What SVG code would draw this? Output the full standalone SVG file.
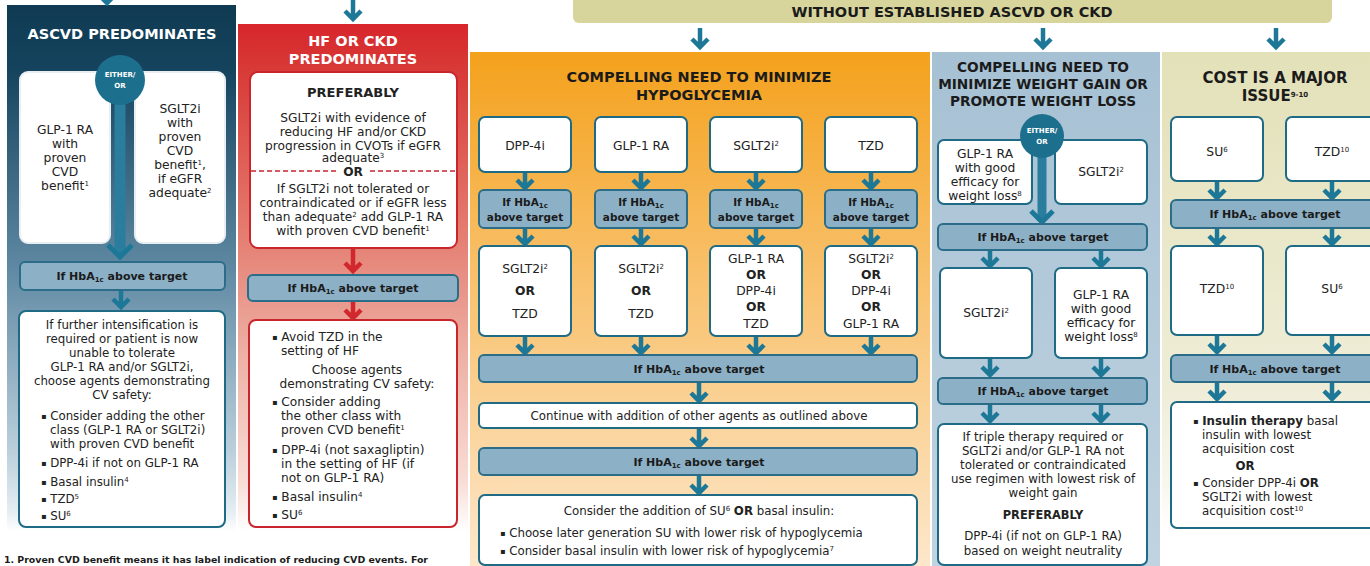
<svg xmlns="http://www.w3.org/2000/svg" width="1370" height="566" viewBox="0 0 1370 566">
<defs>
<linearGradient id="gNavy" x1="0" y1="0" x2="0" y2="1">
<stop offset="0" stop-color="#0f3a52"/><stop offset="0.12" stop-color="#15435d"/><stop offset="0.5" stop-color="#5f89a3"/><stop offset="0.85" stop-color="#bcd0dc"/><stop offset="0.96" stop-color="#e4edf2"/><stop offset="1" stop-color="#ffffff"/>
</linearGradient>
<linearGradient id="gRed" x1="0" y1="0" x2="0" y2="1">
<stop offset="0" stop-color="#d7262c"/><stop offset="0.09" stop-color="#d83a37"/><stop offset="0.4" stop-color="#e47a6e"/><stop offset="0.65" stop-color="#eeb0a4"/><stop offset="0.9" stop-color="#f8ddd6"/><stop offset="1" stop-color="#ffffff"/>
</linearGradient>
<linearGradient id="gOrange" x1="0" y1="0" x2="0" y2="1">
<stop offset="0" stop-color="#f4a11c"/><stop offset="0.4" stop-color="#f8be65"/><stop offset="1" stop-color="#fde7cb"/>
</linearGradient>
<linearGradient id="gBlue" x1="0" y1="0" x2="0" y2="1">
<stop offset="0" stop-color="#a6c1d4"/><stop offset="1" stop-color="#c0d3e0"/>
</linearGradient>
<linearGradient id="gKhaki" x1="0" y1="0" x2="0" y2="1">
<stop offset="0" stop-color="#e3e1b8"/><stop offset="0.7" stop-color="#efedd7"/><stop offset="0.9" stop-color="#f8f7ee"/><stop offset="1" stop-color="#ffffff"/>
</linearGradient>
<style>
.t{font-family:"DejaVu Sans","Liberation Sans",sans-serif;font-size:11.8px;fill:#222}
.r{font-size:12.2px}
.m{font-size:12.3px}
.c{text-anchor:middle}
.b{font-weight:700}
.bl{font-size:8px;baseline-shift:1.5px}
.hw{font-size:14.5px;font-weight:700;fill:#fff}
.hd{font-size:14.5px;font-weight:700;fill:#1b1b1b}
.hb{font-size:11px;font-weight:700;fill:#1b1b1b}
.hs{font-size:10.5px;font-weight:700;fill:#1b1b1b}
.sup{font-size:7px;baseline-shift:4px}
.sub{font-size:7px;baseline-shift:-2px}
.wb{fill:#fff;stroke:#1f6a85;stroke-width:2}
.rb{fill:#fff;stroke:#c8262c;stroke-width:2}
.bar{fill:#8cb1c7;stroke:#2b6d89;stroke-width:2}
.arr{fill:none;stroke:#1d7897;stroke-width:4.5}
.arrR{fill:none;stroke:#d0282d;stroke-width:4.5}
.circ{fill:#1d6f8e}
.ct{font-family:"DejaVu Sans","Liberation Sans",sans-serif;font-size:7px;font-weight:700;fill:#fff;text-anchor:middle}
</style>
</defs>
<rect width="1370" height="566" fill="#ffffff"/>

<g id="panel-ascvd">
<rect x="7" y="5" width="229" height="527" fill="url(#gNavy)"/>
<text class="t hw c" x="122" y="39">ASCVD PREDOMINATES</text>
</g>
<g id="panel-hf">
<rect x="238" y="24" width="230" height="508" fill="url(#gRed)"/>
<text class="t hw c" x="353" y="46">HF OR CKD</text>
<text class="t hw c" x="353" y="64">PREDOMINATES</text>
</g>
<g id="top-bar">
<rect x="573" y="-8" width="759" height="31" rx="6" fill="#d7d59c"/>
<text class="t hd c" x="952" y="17">WITHOUT ESTABLISHED ASCVD OR CKD</text>
</g>
<g id="panel-hypo">
<rect x="470" y="52" width="460" height="514" fill="url(#gOrange)"/>
<text class="t hd c" x="699" y="82">COMPELLING NEED TO MINIMIZE</text>
<text class="t hd c" x="699" y="100">HYPOGLYCEMIA</text>
</g>
<g id="panel-weight">
<rect x="932" y="52" width="228" height="514" fill="url(#gBlue)"/>
<text class="t hd c" x="1043" y="72" style="font-size:13.7px">COMPELLING NEED TO</text>
<text class="t hd c" x="1043" y="89" style="font-size:13.7px">MINIMIZE WEIGHT GAIN OR</text>
<text class="t hd c" x="1043" y="106" style="font-size:13.7px">PROMOTE WEIGHT LOSS</text>
</g>
<g id="panel-cost">
<rect x="1162" y="52" width="208" height="480" fill="url(#gKhaki)"/>
<text class="t hd c" x="1275" y="83" style="font-size:15px">COST IS A MAJOR</text>
<text class="t hd c" x="1275" y="101" style="font-size:15px">ISSUE<tspan class="sup">9-10</tspan></text>
</g>

<g id="connectors">
<path class="arr" d="M107 -6V3M99 -5L107 3L115 -5"/>
<path class="arr" d="M353 0V19M345 11L353 19L361 11"/>
<path class="arr" d="M700 28V47M692 39L700 47L708 39"/>
<path class="arr" d="M1043 28V47M1035 39L1043 47L1051 39"/>
<path class="arr" d="M1276 28V47M1268 39L1276 47L1284 39"/>
<path d="M120 100V255" fill="none" stroke="#2a7d9c" stroke-width="11"/>
<path class="arr" d="M108 245L120 257L132 245" style="stroke-width:5"/>
<path class="arr" d="M121 291V307M113 299L121 307L129 299"/>
<path class="arrR" d="M353 249V271M345 263L353 271L361 263"/>
<path class="arrR" d="M353 301V318M345 310L353 318L361 310"/>
<path class="arr" d="M525 173V188M517 180L525 188L533 180"/>
<path class="arr" d="M641 173V188M633 180L641 188L649 180"/>
<path class="arr" d="M756 173V188M748 180L756 188L764 180"/>
<path class="arr" d="M871 173V188M863 180L871 188L879 180"/>
<path class="arr" d="M525 229V244M517 236L525 244L533 236"/>
<path class="arr" d="M641 229V244M633 236L641 244L649 236"/>
<path class="arr" d="M756 229V244M748 236L756 244L764 236"/>
<path class="arr" d="M871 229V244M863 236L871 244L879 236"/>
<path class="arr" d="M525 337V353M517 345L525 353L533 345"/>
<path class="arr" d="M641 337V353M633 345L641 353L649 345"/>
<path class="arr" d="M756 337V353M748 345L756 353L764 345"/>
<path class="arr" d="M871 337V353M863 345L871 353L879 345"/>
<path class="arr" d="M699 383V401M691 393L699 401L707 393"/>
<path class="arr" d="M699 429V446M691 438L699 446L707 438"/>
<path class="arr" d="M699 476V493M691 485L699 493L707 485"/>
<path d="M1042 156V220" fill="none" stroke="#2a7d9c" stroke-width="9"/>
<path class="arr" d="M1031 211L1042 222L1053 211" style="stroke-width:5"/>
<path class="arr" d="M990 251V266M982 258L990 266L998 258"/>
<path class="arr" d="M1101 251V266M1093 258L1101 266L1109 258"/>
<path class="arr" d="M990 359V375M982 367L990 375L998 367"/>
<path class="arr" d="M1101 359V375M1093 367L1101 375L1109 367"/>
<path class="arr" d="M990 405V421M982 413L990 421L998 413"/>
<path class="arr" d="M1101 405V421M1093 413L1101 421L1109 413"/>
<path d="M1042 565V572" fill="none" stroke="#1d7897" stroke-width="3"/>
<path class="arr" d="M1217 182V198M1209 190L1217 198L1225 190"/>
<path class="arr" d="M1332 182V198M1324 190L1332 198L1340 190"/>
<path class="arr" d="M1217 229V244M1209 236L1217 244L1225 236"/>
<path class="arr" d="M1332 229V244M1324 236L1332 244L1340 236"/>
<path class="arr" d="M1217 336V352M1209 344L1217 352L1225 344"/>
<path class="arr" d="M1332 336V352M1324 344L1332 352L1340 344"/>
<path class="arr" d="M1217 382V399M1209 391L1217 399L1225 391"/>
<path class="arr" d="M1332 382V399M1324 391L1332 399L1340 391"/>
</g>

<g id="a-glp1">
<rect class="wb" x="20" y="72" width="90" height="171" rx="8" style="stroke:#e8eef2"/>
<text class="t m c" x="65" y="134">GLP-1 RA</text>
<text class="t m c" x="65" y="148">with</text>
<text class="t m c" x="65" y="162">proven</text>
<text class="t m c" x="65" y="176">CVD</text>
<text class="t m c" x="65" y="190">benefit<tspan class="sup">1</tspan></text>
</g>
<g id="a-sglt2">
<rect class="wb" x="135" y="72" width="90" height="171" rx="8" style="stroke:#e8eef2"/>
<text class="t m c" x="180" y="113">SGLT2i</text>
<text class="t m c" x="180" y="127">with</text>
<text class="t m c" x="180" y="141">proven</text>
<text class="t m c" x="180" y="155">CVD</text>
<text class="t m c" x="180" y="169">benefit<tspan class="sup">1</tspan>,</text>
<text class="t m c" x="180" y="183">if eGFR</text>
<text class="t m c" x="180" y="197">adequate<tspan class="sup">2</tspan></text>
</g>
<g id="a-either">
<circle class="circ" cx="120" cy="80" r="25"/>
<text class="ct" x="120" y="77">EITHER/</text>
<text class="ct" x="120" y="88">OR</text>
</g>
<g id="a-hba1c">
<rect class="bar" x="20" y="262" width="205" height="28" rx="5"/>
<text class="t hb c" x="122" y="280">If HbA<tspan class="sub">1c</tspan> above target</text>
</g>
<g id="a-further">
<rect class="wb" x="19" y="311" width="206" height="216" rx="7"/>
<text class="t c" x="122" y="329">If further intensification is</text>
<text class="t c" x="122" y="343">required or patient is now</text>
<text class="t c" x="122" y="357">unable to tolerate</text>
<text class="t c" x="122" y="371">GLP-1 RA and/or SGLT2i,</text>
<text class="t c" x="122" y="385">choose agents demonstrating</text>
<text class="t c" x="122" y="399">CV safety:</text>
<text class="t" x="41" y="420"><tspan class="bl">▪</tspan> Consider adding the other</text>
<text class="t" x="50" y="434">class (GLP-1 RA or SGLT2i)</text>
<text class="t" x="50" y="448">with proven CVD benefit</text>
<text class="t" x="41" y="467"><tspan class="bl">▪</tspan> DPP-4i if not on GLP-1 RA</text>
<text class="t" x="41" y="486"><tspan class="bl">▪</tspan> Basal insulin<tspan class="sup">4</tspan></text>
<text class="t" x="41" y="503"><tspan class="bl">▪</tspan> TZD<tspan class="sup">5</tspan></text>
<text class="t" x="41" y="520"><tspan class="bl">▪</tspan> SU<tspan class="sup">6</tspan></text>
</g>

<g id="h-pref">
<rect class="rb" x="250" y="72" width="207" height="176" rx="8"/>
<text class="t b c" x="353" y="97" style="font-size:13px">PREFERABLY</text>
<text class="t r c" x="353" y="122">SGLT2i with evidence of</text>
<text class="t r c" x="353" y="136">reducing HF and/or CKD</text>
<text class="t r c" x="353" y="150">progression in CVOTs if eGFR</text>
<text class="t r c" x="353" y="162">adequate<tspan class="sup">3</tspan></text>
<line x1="251" y1="171" x2="336" y2="171" stroke="#c8262c" stroke-width="1.5" stroke-dasharray="5 3"/>
<line x1="370" y1="171" x2="456" y2="171" stroke="#c8262c" stroke-width="1.5" stroke-dasharray="5 3"/>
<text class="t r b c" x="353" y="176">OR</text>
<text class="t r c" x="353" y="193">If SGLT2i not tolerated or</text>
<text class="t r c" x="353" y="207">contraindicated or if eGFR less</text>
<text class="t r c" x="353" y="221">than adequate<tspan class="sup">2</tspan> add GLP-1 RA</text>
<text class="t r c" x="353" y="235">with proven CVD benefit<tspan class="sup">1</tspan></text>
</g>
<g id="h-hba1c">
<rect class="bar" x="248" y="275" width="210" height="26" rx="5"/>
<text class="t hb c" x="353" y="292">If HbA<tspan class="sub">1c</tspan> above target</text>
</g>
<g id="h-agents">
<rect class="rb" x="249" y="320" width="208" height="207" rx="7"/>
<text class="t r" x="272" y="341"><tspan class="bl">▪</tspan> Avoid TZD in the</text>
<text class="t r" x="281" y="355">setting of HF</text>
<text class="t r c" x="357" y="374">Choose agents</text>
<text class="t r c" x="357" y="388">demonstrating CV safety:</text>
<text class="t r" x="272" y="406"><tspan class="bl">▪</tspan> Consider adding</text>
<text class="t r" x="281" y="420">the other class with</text>
<text class="t r" x="281" y="434">proven CVD benefit<tspan class="sup">1</tspan></text>
<text class="t r" x="272" y="454"><tspan class="bl">▪</tspan> DPP-4i (not saxagliptin)</text>
<text class="t r" x="281" y="468">in the setting of HF (if</text>
<text class="t r" x="281" y="482">not on GLP-1 RA)</text>
<text class="t r" x="272" y="501"><tspan class="bl">▪</tspan> Basal insulin<tspan class="sup">4</tspan></text>
<text class="t r" x="272" y="519"><tspan class="bl">▪</tspan> SU<tspan class="sup">6</tspan></text>
</g>

<g id="y-dpp4"><rect class="wb" x="479" y="117" width="92" height="55" rx="6"/><text class="t m c" x="525" y="150">DPP-4i</text></g>
<g id="y-glp1"><rect class="wb" x="595" y="117" width="92" height="55" rx="6"/><text class="t m c" x="641" y="150">GLP-1 RA</text></g>
<g id="y-sglt2"><rect class="wb" x="710" y="117" width="92" height="55" rx="6"/><text class="t m c" x="756" y="150">SGLT2i<tspan class="sup">2</tspan></text></g>
<g id="y-tzd"><rect class="wb" x="825" y="117" width="92" height="55" rx="6"/><text class="t m c" x="871" y="150">TZD</text></g>

<g id="y-hb1"><rect class="bar" x="479" y="190" width="92" height="38" rx="5"/><text class="t hs c" x="525" y="206">If HbA<tspan class="sub">1c</tspan></text><text class="t hs c" x="525" y="221">above target</text></g>
<g id="y-hb2"><rect class="bar" x="595" y="190" width="92" height="38" rx="5"/><text class="t hs c" x="641" y="206">If HbA<tspan class="sub">1c</tspan></text><text class="t hs c" x="641" y="221">above target</text></g>
<g id="y-hb3"><rect class="bar" x="710" y="190" width="92" height="38" rx="5"/><text class="t hs c" x="756" y="206">If HbA<tspan class="sub">1c</tspan></text><text class="t hs c" x="756" y="221">above target</text></g>
<g id="y-hb4"><rect class="bar" x="825" y="190" width="92" height="38" rx="5"/><text class="t hs c" x="871" y="206">If HbA<tspan class="sub">1c</tspan></text><text class="t hs c" x="871" y="221">above target</text></g>

<g id="y-opt1"><rect class="wb" x="479" y="246" width="92" height="90" rx="6"/>
<text class="t m c" x="525" y="273">SGLT2i<tspan class="sup">2</tspan></text><text class="t m b c" x="525" y="295">OR</text><text class="t m c" x="525" y="318">TZD</text></g>
<g id="y-opt2"><rect class="wb" x="595" y="246" width="92" height="90" rx="6"/>
<text class="t m c" x="641" y="273">SGLT2i<tspan class="sup">2</tspan></text><text class="t m b c" x="641" y="295">OR</text><text class="t m c" x="641" y="318">TZD</text></g>
<g id="y-opt3"><rect class="wb" x="710" y="246" width="92" height="90" rx="6"/>
<text class="t m c" x="756" y="263">GLP-1 RA</text><text class="t m b c" x="756" y="279">OR</text><text class="t m c" x="756" y="295">DPP-4i</text><text class="t m b c" x="756" y="311">OR</text><text class="t m c" x="756" y="328">TZD</text></g>
<g id="y-opt4"><rect class="wb" x="825" y="246" width="92" height="90" rx="6"/>
<text class="t m c" x="871" y="263">SGLT2i<tspan class="sup">2</tspan></text><text class="t m b c" x="871" y="279">OR</text><text class="t m c" x="871" y="295">DPP-4i</text><text class="t m b c" x="871" y="311">OR</text><text class="t m c" x="871" y="328">GLP-1 RA</text></g>

<g id="y-hbwide1"><rect class="bar" x="479" y="355" width="438" height="27" rx="5"/><text class="t hb c" x="699" y="373">If HbA<tspan class="sub">1c</tspan> above target</text></g>
<g id="y-continue"><rect class="wb" x="479" y="403" width="438" height="25" rx="5"/><text class="t c" x="699" y="420">Continue with addition of other agents as outlined above</text></g>
<g id="y-hbwide2"><rect class="bar" x="479" y="448" width="438" height="27" rx="5"/><text class="t hb c" x="699" y="466">If HbA<tspan class="sub">1c</tspan> above target</text></g>
<g id="y-consider"><rect class="wb" x="479" y="495" width="438" height="70" rx="6"/>
<text class="t c" x="699" y="515">Consider the addition of SU<tspan class="sup">6</tspan> <tspan class="b">OR</tspan> basal insulin:</text>
<text class="t" x="500" y="537"><tspan class="bl">▪</tspan> Choose later generation SU with lower risk of hypoglycemia</text>
<text class="t" x="500" y="555"><tspan class="bl">▪</tspan> Consider basal insulin with lower risk of hypoglycemia<tspan class="sup">7</tspan></text>
</g>

<g id="w-glp1"><rect class="wb" x="938" y="140" width="94" height="64" rx="6"/>
<text class="t m c" x="985" y="158">GLP-1 RA</text><text class="t m c" x="985" y="172">with good</text><text class="t m c" x="985" y="186">efficacy for</text><text class="t m c" x="985" y="200">weight loss<tspan class="sup">8</tspan></text></g>
<g id="w-sglt2"><rect class="wb" x="1055" y="140" width="92" height="64" rx="6"/>
<text class="t m c" x="1101" y="176">SGLT2i<tspan class="sup">2</tspan></text></g>
<g id="w-either"><circle class="circ" cx="1042" cy="136" r="22"/><text class="ct" x="1042" y="133">EITHER/</text><text class="ct" x="1042" y="144">OR</text></g>
<g id="w-hb1"><rect class="bar" x="938" y="224" width="209" height="26" rx="5"/><text class="t hb c" x="1043" y="241">If HbA<tspan class="sub">1c</tspan> above target</text></g>
<g id="w-sglt2b"><rect class="wb" x="940" y="268" width="92" height="90" rx="6"/><text class="t m c" x="986" y="317">SGLT2i<tspan class="sup">2</tspan></text></g>
<g id="w-glp1b"><rect class="wb" x="1055" y="268" width="92" height="90" rx="6"/>
<text class="t m c" x="1101" y="299">GLP-1 RA</text><text class="t m c" x="1101" y="313">with good</text><text class="t m c" x="1101" y="327">efficacy for</text><text class="t m c" x="1101" y="341">weight loss<tspan class="sup">8</tspan></text></g>
<g id="w-hb2"><rect class="bar" x="938" y="378" width="209" height="26" rx="5"/><text class="t hb c" x="1043" y="395">If HbA<tspan class="sub">1c</tspan> above target</text></g>
<g id="w-triple"><rect class="wb" x="938" y="424" width="209" height="141" rx="6"/>
<text class="t c" x="1043" y="441">If triple therapy required or</text>
<text class="t c" x="1043" y="455">SGLT2i and/or GLP-1 RA not</text>
<text class="t c" x="1043" y="469">tolerated or contraindicated</text>
<text class="t c" x="1043" y="483">use regimen with lowest risk of</text>
<text class="t c" x="1043" y="497">weight gain</text>
<text class="t b c" x="1043" y="519" style="font-size:11.4px">PREFERABLY</text>
<text class="t c" x="1043" y="540">DPP-4i (if not on GLP-1 RA)</text>
<text class="t c" x="1043" y="555">based on weight neutrality</text>
</g>

<g id="c-su"><rect class="wb" x="1171" y="117" width="92" height="64" rx="6"/><text class="t m c" x="1217" y="156">SU<tspan class="sup">6</tspan></text></g>
<g id="c-tzd"><rect class="wb" x="1286" y="117" width="92" height="64" rx="6"/><text class="t m c" x="1332" y="156">TZD<tspan class="sup">10</tspan></text></g>
<g id="c-hb1"><rect class="bar" x="1171" y="200" width="207" height="28" rx="5"/><text class="t hb c" x="1275" y="218">If HbA<tspan class="sub">1c</tspan> above target</text></g>
<g id="c-tzd2"><rect class="wb" x="1171" y="246" width="92" height="89" rx="6"/><text class="t m c" x="1217" y="293">TZD<tspan class="sup">10</tspan></text></g>
<g id="c-su2"><rect class="wb" x="1286" y="246" width="92" height="89" rx="6"/><text class="t m c" x="1332" y="293">SU<tspan class="sup">6</tspan></text></g>
<g id="c-hb2"><rect class="bar" x="1171" y="355" width="207" height="27" rx="5"/><text class="t hb c" x="1275" y="373">If HbA<tspan class="sub">1c</tspan> above target</text></g>
<g id="c-insulin"><rect class="wb" x="1171" y="402" width="207" height="126" rx="6"/>
<text class="t" x="1193" y="425"><tspan class="bl">▪</tspan> <tspan class="b">Insulin therapy</tspan> basal</text>
<text class="t" x="1202" y="439">insulin with lowest</text>
<text class="t" x="1202" y="453">acquisition cost</text>
<text class="t b c" x="1245" y="470">OR</text>
<text class="t" x="1193" y="487"><tspan class="bl">▪</tspan> Consider DPP-4i <tspan class="b">OR</tspan></text>
<text class="t" x="1202" y="501">SGLT2i with lowest</text>
<text class="t" x="1202" y="515">acquisition cost<tspan class="sup">10</tspan></text>
</g>

<g id="footnote">
<text class="t b" x="4" y="563" style="font-size:9.5px;fill:#1b1b1b" textLength="424" lengthAdjust="spacingAndGlyphs">1. Proven CVD benefit means it has label indication of reducing CVD events. For</text>
</g>
</svg>
